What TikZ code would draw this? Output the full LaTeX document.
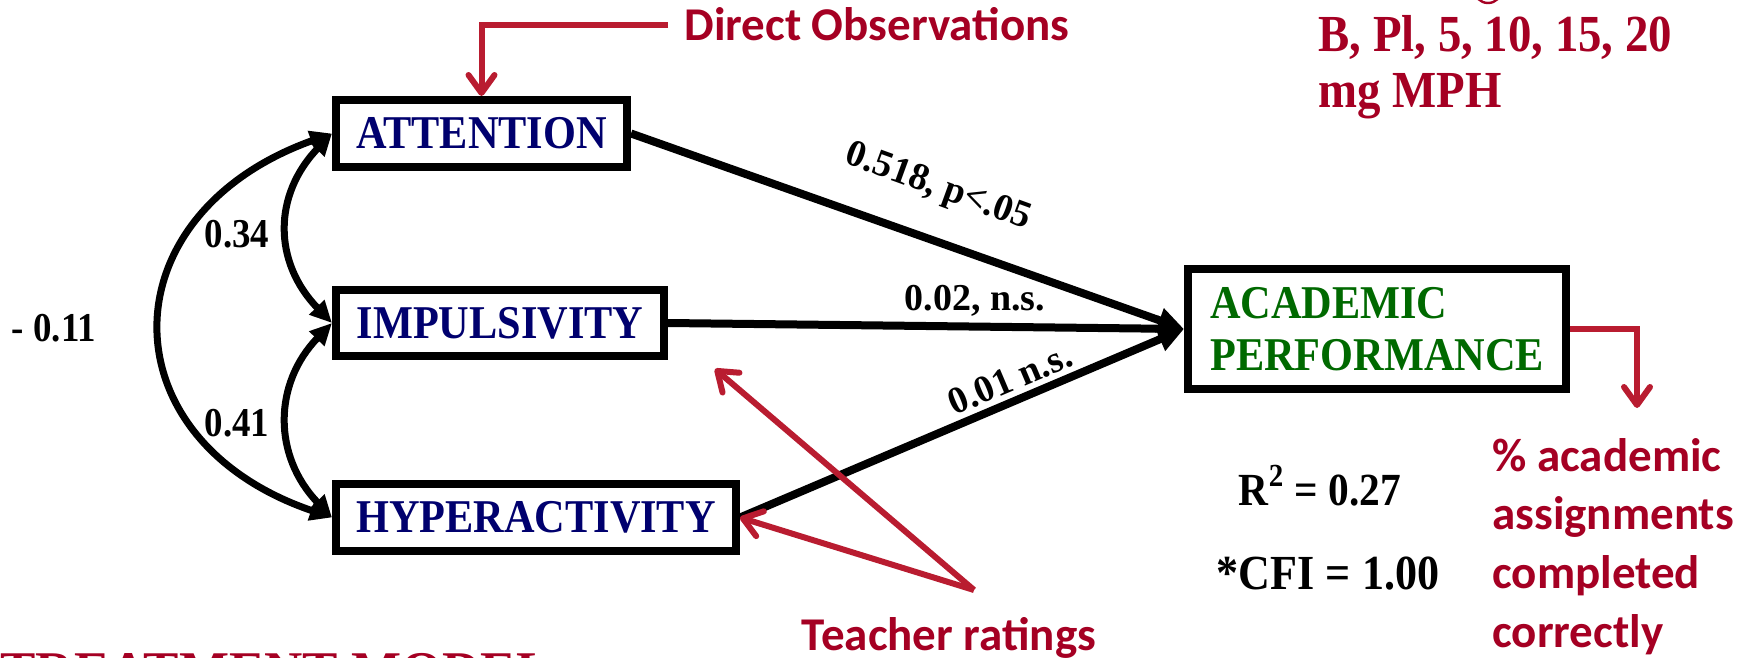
\documentclass[tikz,border=0pt]{standalone}
\usepackage{fontspec}
\setmainfont{Liberation Serif}
\newfontfamily\condserif[FakeStretch=0.9]{Liberation Serif}
\newfontfamily\calib{Carlito}
\usetikzlibrary{arrows.meta}
\definecolor{navy}{RGB}{0,0,110}
\definecolor{dgreen}{RGB}{0,105,0}
\definecolor{txtred}{RGB}{165,0,35}
\definecolor{arrred}{RGB}{185,28,48}
\begin{document}
\begin{tikzpicture}[x=0.5pt,y=-0.5pt,
  box/.style={draw=black, line width=4pt, fill=white, inner sep=0pt,
    font=\condserif\bfseries\fontsize{23.5}{26}\selectfont},
  corr/.style={line width=3.5pt, {Triangle[length=11pt,width=10pt]}-{Triangle[length=11pt,width=10pt]}},
  regr/.style={line width=4pt, -{Triangle[length=13pt,width=12pt]}},
  redarr/.style={draw=arrred, line width=3pt, -{Straight Barb[length=9pt,width=13pt,round]}},
  coef/.style={font=\bfseries\fontsize{19}{22}\selectfont, inner sep=0pt},
  corrlab/.style={font=\condserif\bfseries\fontsize{20.5}{24}\selectfont, inner sep=0pt},
  stat/.style={font=\condserif\bfseries\fontsize{23}{26}\selectfont, inner sep=0pt},
  redsans/.style={text=txtred, font=\calib\bfseries\fontsize{23.5}{29.3}\selectfont, inner sep=0pt},
  redserif/.style={text=txtred, font=\condserif\bfseries\fontsize{26}{28}\selectfont, inner sep=0pt}
]
\clip (0,0) rectangle (1752,658);
\fill[white] (0,0) rectangle (1752,658);

% boxes
\node[box, text=navy, minimum width=145.5pt, minimum height=33.5pt] (att) at (481.5,133.5) {ATTENTION};
\node[box, text=navy, minimum width=164pt, minimum height=33pt] (imp) at (500,323) {IMPULSIVITY};
\node[box, text=navy, minimum width=200pt, minimum height=33.5pt] (hyp) at (536,517.5) {HYPERACTIVITY};
\node[box, text=dgreen, align=left, minimum width=189pt, minimum height=60pt] (acad) at (1377,329) {ACADEMIC\\PERFORMANCE};

% correlations
\draw[corr] (att.west) .. controls (105,215) and (105,440) .. (hyp.west);
\draw[corr] (att.west) .. controls (273,195) and (273,262) .. (imp.west);
\draw[corr] (imp.west) .. controls (273,384) and (273,456) .. (hyp.west);
\node[corrlab, anchor=base] (c1) at (237,248) {0.34};
\node[corrlab, anchor=base] (c2) at (237,436) {0.41};
\node[corrlab, anchor=base] (c3) at (54,341) {- 0.11};

% regressions
\draw[regr] (att.east) -- (acad.west);
\draw[regr] (imp.east) -- (acad.west);
\draw[regr] (hyp.east) -- (acad.west);
\node[coef, rotate=-20] (l1) at (938,188) {0.518, p<.05};
\node[coef] (l2) at (975,301) {0.02, n.s.};
\node[coef, rotate=23] (l3) at (1010,379) {0.01 n.s.};

% statistics
\node[stat, anchor=base] (r2) at (1320,505) {R\textsuperscript{2} = 0.27};
\node[stat, anchor=base, font=\condserif\bfseries\fontsize{24.5}{26}\selectfont] (cfi) at (1328,589) {*CFI = 1.00};

% red annotations
\node[redsans, anchor=base west] (do) at (684,41) {Direct Observations};
\node[redsans, anchor=base] (tr) at (949,650) {Teacher ratings};
\node[redsans, anchor=north west, align=left] (pct) at (1492,438) {\% academic\\assignments\\completed\\correctly};
\node[redserif, anchor=base west] (dose1) at (1318,52) {B, Pl, 5, 10, 15, 20};
\node[redserif, anchor=base west] (dose2) at (1318,108) {mg MPH};
\node[redserif, font=\bfseries\fontsize{26.5}{28}\selectfont, anchor=base west] (tm) at (0,688) {TREATMENT MODEL};
\draw[txtred, line width=1.2pt] (1488,-11) circle[radius=7pt];

\draw[redarr, line join=miter] ([xshift=-8pt]do.west) -| (att.north);
\coordinate (acadout) at (1637,408);
\draw[redarr, line join=miter] (acad.east) -| (acadout);
\coordinate (tsrc) at (974,590);
\coordinate (tup) at (715,369);
\draw[redarr] (tsrc) -- (tup);
\draw[redarr] (tsrc) -- (hyp.east);
\end{tikzpicture}
\end{document}
